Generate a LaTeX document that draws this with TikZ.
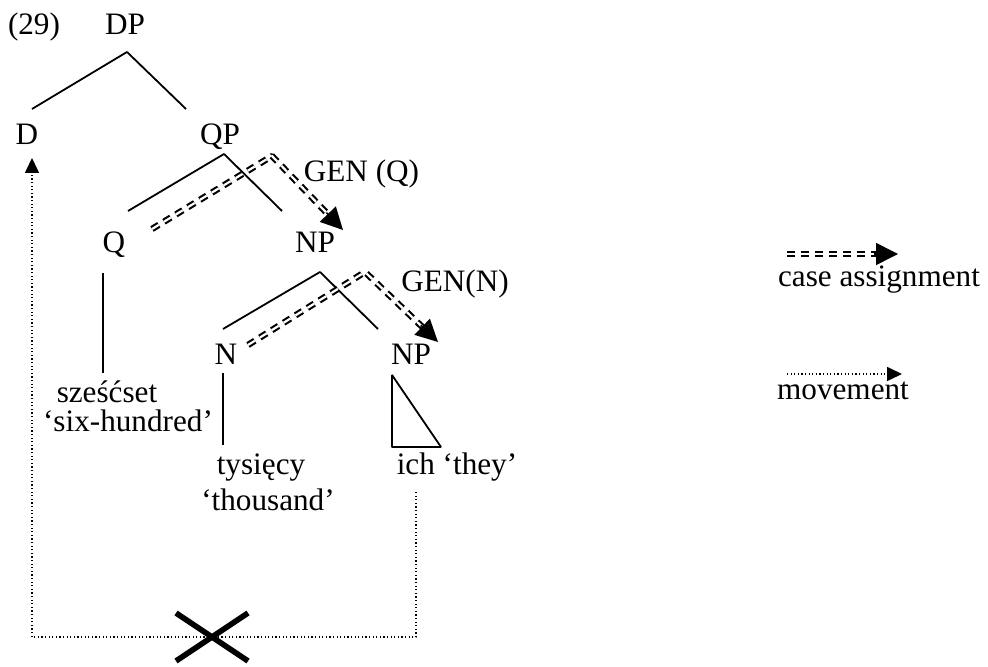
\documentclass[tikz,border=0pt]{standalone}
\usepackage{fontspec}
\setmainfont{Liberation Serif}
\usetikzlibrary{arrows.meta,calc}

\begin{document}
\begin{tikzpicture}[line join=bevel,
  font=\fontsize{15.6bp}{18bp}\selectfont,
  tag/.style={anchor=base,inner sep=0pt,outer sep=0pt},
  branch/.style={line width=0.9bp},
  caseline/.style={double,double distance=1.1bp,line width=1.05bp,dash pattern=on 4bp off 3bp},
  casehead/.style={-{Triangle[length=11bp,width=11bp]},line width=0.8bp},
  moveline/.style={line width=0.8bp,dash pattern=on 0.6bp off 1.2bp},
  movehead/.style={-{Triangle[length=7.5bp,width=7bp]}},
  ]
\useasboundingbox (0bp,0bp) rectangle (494bp,333.5bp);
%%
  % Node: tree labels
  \node[tag] (ex) at (17bp,316bp) {(29)};
  \node[tag] (DP) at (62.5bp,316bp) {DP};
  \node[tag] (D) at (13.5bp,261bp) {D};
  \node[tag] (QP) at (110bp,261bp) {QP};
  \node[tag] (Q) at (57bp,207bp) {Q};
  \node[tag] (NPq) at (157.5bp,207bp) {NP};
  \node[tag] (N) at (113bp,151bp) {N};
  \node[tag] (NPn) at (205.5bp,151bp) {NP};
  % Node: words
  \node[tag] (szesc) at (53.5bp,132bp) {sześćset};
  \node[tag] (sixh) at (64bp,117.5bp) {‘six-hundred’};
  \node[tag] (tys) at (130.5bp,96bp) {tysięcy};
  \node[tag] (thous) at (134bp,78bp) {‘thousand’};
  \node[tag] (ich) at (228.5bp,96bp) {ich ‘they’};
  % Node: case labels
  \node[tag] (genQ) at (180.75bp,242.5bp) {GEN (Q)};
  \node[tag] (genN) at (227.5bp,187.5bp) {GEN(N)};
  % Node: legend
  \node[tag] (caseleg) at (439.5bp,190bp) {case assignment};
  \node[tag] (moveleg) at (421.5bp,133.5bp) {movement};
%
  % Edge: DP -> D, DP -> QP
  \draw[branch] ([shift={(1bp,-8.5bp)}]DP.base) -- ([shift={(2.5bp,18bp)}]D.base);
  \draw[branch] ([shift={(1bp,-8.5bp)}]DP.base) -- ([shift={(-17bp,18bp)}]QP.base);
  % Edge: QP -> Q, QP -> NP
  \draw[branch] ([shift={(2bp,-4.5bp)}]QP.base) -- ([shift={(7bp,21bp)}]Q.base);
  \draw[branch] ([shift={(2bp,-4.5bp)}]QP.base) -- ([shift={(-16.5bp,21bp)}]NPq.base);
  % Edge: NP -> N, NP -> NP
  \draw[branch] ([shift={(2.5bp,-9.5bp)}]NPq.base) -- ([shift={(-1.5bp,18bp)}]N.base);
  \draw[branch] ([shift={(2.5bp,-9.5bp)}]NPq.base) -- ([shift={(-16.5bp,18bp)}]NPn.base);
  % Edge: Q -> szesc, N -> tys
  \draw[branch] ([shift={(-5.5bp,-10bp)}]Q.base) -- ([shift={(-2bp,15bp)}]szesc.base);
  \draw[branch] ([shift={(-1.5bp,-4bp)}]N.base) -- ([shift={(-19bp,15bp)}]tys.base);
  % Edge: NP -> ich (triangle)
  \draw[branch] ([shift={(-9.5bp,-5bp)}]NPn.base) -- ([shift={(-32.5bp,14bp)}]ich.base)
    -- ([shift={(-8bp,14bp)}]ich.base) -- cycle;
%
  % Edge: Q -> NP  GEN (Q)
  \coordinate (qpeak) at ([shift={(26bp,-5.5bp)}]QP.base);
  \coordinate (qtip) at ([shift={(14bp,11.5bp)}]NPq.base);
  \draw[caseline,shorten >=10bp] ([shift={(19bp,12bp)}]Q.base) -- (qpeak) -- (qtip);
  \draw[casehead] ($(qtip)!12bp!(qpeak)$) -- (qtip);
  % Edge: N -> NP  GEN(N)
  \coordinate (npeak) at ([shift={(25bp,-9.5bp)}]NPq.base);
  \coordinate (ntip) at ([shift={(13.5bp,11.5bp)}]NPn.base);
  \draw[caseline,shorten >=10bp] ([shift={(11bp,10bp)}]N.base) -- (npeak) -- (ntip);
  \draw[casehead] ($(ntip)!12bp!(npeak)$) -- (ntip);
%
  % Edge: ich -> D  movement
  \draw[moveline,movehead] ([shift={(-20.5bp,-8.5bp)}]ich.base) -- ++(0bp,-72.5bp)
    -| ([shift={(2.5bp,-6.5bp)}]D.base);
  \coordinate (cross) at (106bp,15bp);
  \draw[line width=2.8bp] (cross) +(-18bp,12bp) -- +(18bp,-12bp)
    (cross) +(-18bp,-12bp) -- +(18bp,12bp);
%
  % Legend
  \coordinate (legq) at ([shift={(-46bp,16.5bp)}]caseleg.base);
  \coordinate (legqtip) at ([shift={(9.5bp,16.5bp)}]caseleg.base);
  \draw[caseline,shorten >=10bp] (legq) -- (legqtip);
  \draw[casehead] ($(legqtip)!12bp!(legq)$) -- (legqtip);
  \draw[moveline,movehead] ([shift={(-28bp,13bp)}]moveleg.base) -- ([shift={(29.5bp,13bp)}]moveleg.base);
%
\end{tikzpicture}
\end{document}
